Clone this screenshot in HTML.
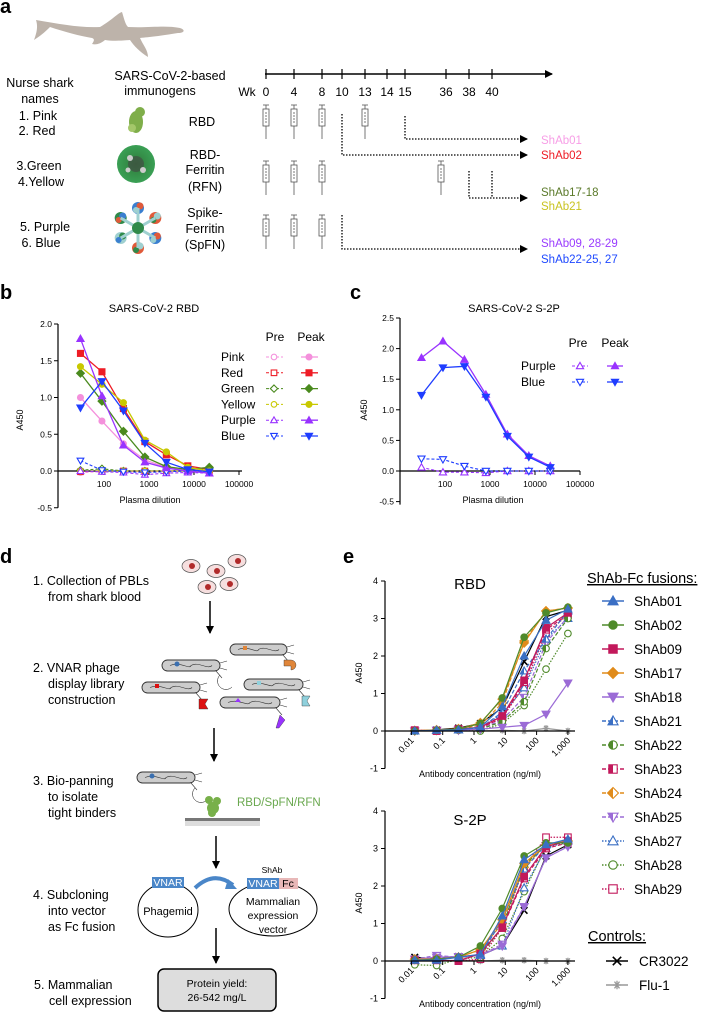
<!DOCTYPE html>
<html><head><meta charset="utf-8">
<style>
html,body{margin:0;padding:0;background:#fff;}
svg{display:block;font-family:"Liberation Sans",Arial,sans-serif;}
</style></head>
<body>
<svg id="fig" width="713" height="1012" viewBox="0 0 713 1012" xmlns="http://www.w3.org/2000/svg">
<defs>
  <marker id="arr" markerWidth="8" markerHeight="8" refX="7" refY="4" orient="auto" markerUnits="userSpaceOnUse"><path d="M0,0 L8,4 L0,8 Z" fill="#000"/></marker>
  <radialGradient id="rfnG" cx="50%" cy="50%" r="50%"><stop offset="0" stop-color="#2f7a3a"/><stop offset="1" stop-color="#3aa055"/></radialGradient>
</defs>

<!-- PANEL A -->
<g>
  <text x="0" y="13" font-size="20" font-weight="bold">a</text>
  <g fill="#bdb3aa">
    <path d="M36,20 C60,24 80,28 100,27 C112,20 118,13 122,12 C124,18 125,24 128,27 C150,28 165,25 180,28 C186,30 184,33 178,33 C160,36 150,37 140,38 C143,45 148,50 148,57 C140,52 134,46 130,40 C118,41 112,41 105,40 C100,44 96,45 92,44 C94,41 95,39 92,38 C80,36 65,32 50,27 C44,33 40,36 34,40 C37,32 38,26 36,20 Z"/>
  </g>
  <g font-size="12.5" text-anchor="middle">
    <text x="40" y="87">Nurse shark</text>
    <text x="40" y="103">names</text>
    <text x="38" y="120">1. Pink</text>
    <text x="37" y="135">2. Red</text>
    <text x="39" y="170">3.Green</text>
    <text x="41" y="186">4.Yellow</text>
    <text x="45" y="231">5. Purple</text>
    <text x="41" y="247">6. Blue</text>
  </g>
  <g font-size="12.5" text-anchor="middle">
    <text x="170" y="80">SARS-CoV-2-based</text>
    <text x="160" y="95">immunogens</text>
    <text x="202" y="126">RBD</text>
    <text x="205" y="159">RBD-</text>
    <text x="205" y="174">Ferritin</text>
    <text x="205" y="191">(RFN)</text>
    <text x="205" y="217">Spike-</text>
    <text x="205" y="233">Ferritin</text>
    <text x="205" y="249">(SpFN)</text>
  </g>
  <g fill="#7fae4a">
    <ellipse cx="136" cy="122" rx="7" ry="11"/><circle cx="140" cy="112" r="5"/><circle cx="132" cy="128" r="4" fill="#a4c76a"/>
  </g>
  <g>
    <circle cx="136" cy="164" r="19" fill="url(#rfnG)"/>
    <circle cx="136" cy="164" r="8" fill="#444" opacity="0.6"/>
    <circle cx="130" cy="158" r="3" fill="#ccc"/><circle cx="143" cy="170" r="3" fill="#ccc"/><circle cx="128" cy="170" r="2.5" fill="#ccc"/>
  </g>
  <g id="spfn"></g>
  <g id="timeline"></g>
</g>

<!-- PANEL B -->
<g id="panelB">
  <text x="0" y="299" font-size="20" font-weight="bold">b</text>
  <text x="154" y="312" font-size="11" text-anchor="middle">SARS-CoV-2 RBD</text>
  <text x="23" y="420" font-size="9" text-anchor="middle" transform="rotate(-90 23 420)">A450</text>
  <text x="150" y="503" font-size="9" text-anchor="middle">Plasma dilution</text>
</g>

<!-- PANEL C -->
<g id="panelC">
  <text x="350" y="299" font-size="20" font-weight="bold">c</text>
  <text x="514" y="312" font-size="11" text-anchor="middle">SARS-CoV-2 S-2P</text>
  <text x="367" y="410" font-size="9" text-anchor="middle" transform="rotate(-90 367 410)">A450</text>
  <text x="493" y="503" font-size="9" text-anchor="middle">Plasma dilution</text>
</g>

<!-- PANEL D -->
<g id="panelD">
  <text x="0" y="563" font-size="20" font-weight="bold">d</text>
  <g font-size="12.5">
    <text x="33" y="585">1. Collection of PBLs</text>
    <text x="48" y="601">from shark blood</text>
    <text x="33" y="672">2. VNAR phage</text>
    <text x="48" y="688">display library</text>
    <text x="48" y="704">construction</text>
    <text x="33" y="785">3. Bio-panning</text>
    <text x="48" y="801">to isolate</text>
    <text x="48" y="817">tight binders</text>
    <text x="33" y="899">4. Subcloning</text>
    <text x="48" y="915">into vector</text>
    <text x="48" y="931">as Fc fusion</text>
    <text x="34" y="989">5. Mammalian</text>
    <text x="49" y="1005">cell expression</text>
  </g>
  <g id="cells"></g>
  <g stroke="#000" stroke-width="1.5">
    <line x1="210" y1="601" x2="210" y2="633" marker-end="url(#arr)"/>
    <line x1="214" y1="728" x2="214" y2="761" marker-end="url(#arr)"/>
    <line x1="216" y1="836" x2="216" y2="868" marker-end="url(#arr)"/>
    <line x1="216" y1="928" x2="216" y2="963" marker-end="url(#arr)"/>
  </g>
  <g id="phages"></g>
  <g>
    <rect x="185" y="818" width="75" height="3" fill="#777"/>
    <rect x="185" y="821" width="75" height="5" fill="#ddd"/>
    <g fill="#78b04a"><circle cx="213" cy="808" r="6"/><circle cx="209" cy="800" r="4"/><circle cx="217" cy="801" r="4"/><circle cx="212" cy="813" r="4"/></g>
    <text x="237" y="806" font-size="11.5" fill="#6aa84f">RBD/SpFN/RFN</text>
  </g>
  <g>
    <ellipse cx="168" cy="910" rx="30" ry="27" fill="none" stroke="#000" stroke-width="1"/>
    <rect x="152" y="877" width="32" height="11" fill="#4a86c8"/>
    <text x="168" y="886" font-size="10.5" fill="#fff" text-anchor="middle">VNAR</text>
    <text x="168" y="915" font-size="11" text-anchor="middle">Phagemid</text>
    <path d="M195,888 Q214,870 233,885" fill="none" stroke="#4a86c8" stroke-width="4"/>
    <path d="M228,879 L237,889 L225,889 Z" fill="#4a86c8"/>
    <ellipse cx="273" cy="909" rx="44" ry="27" fill="none" stroke="#000" stroke-width="1"/>
    <text x="272" y="873" font-size="8.5" text-anchor="middle">ShAb</text>
    <rect x="247" y="878" width="32" height="11" fill="#4a86c8"/>
    <rect x="279" y="878" width="19" height="11" fill="#e8b8b8"/>
    <text x="263" y="887" font-size="10.5" fill="#fff" text-anchor="middle">VNAR</text>
    <text x="288" y="887" font-size="10.5" text-anchor="middle">Fc</text>
    <text x="273" y="905" font-size="10.5" text-anchor="middle">Mammalian</text>
    <text x="273" y="919" font-size="10.5" text-anchor="middle">expression</text>
    <text x="273" y="933" font-size="10.5" text-anchor="middle">vector</text>
  </g>
  <g>
    <rect x="158" y="969" width="118" height="42" rx="6" fill="#ddd" stroke="#000" stroke-width="1.5"/>
    <text x="217" y="987" font-size="10.5" text-anchor="middle">Protein yield:</text>
    <text x="217" y="1001" font-size="10.5" text-anchor="middle">26-542 mg/L</text>
  </g>
</g>

<!-- PANEL E -->
<g id="panelE">
  <text x="343" y="563" font-size="20" font-weight="bold">e</text>
  <text x="470" y="589" font-size="15" text-anchor="middle">RBD</text>
  <text x="470" y="825" font-size="15" text-anchor="middle">S-2P</text>
  <text x="362" y="673" font-size="9" text-anchor="middle" transform="rotate(-90 362 673)">A450</text>
  <text x="362" y="903" font-size="9" text-anchor="middle" transform="rotate(-90 362 903)">A450</text>
  <text x="480" y="777" font-size="9" text-anchor="middle">Antibody concentration (ng/ml)</text>
  <text x="480" y="1007" font-size="9" text-anchor="middle">Antibody concentration (ng/ml)</text>
  <text x="587" y="583" font-size="14.5" text-decoration="underline">ShAb-Fc fusions:</text>
  <text x="588" y="941" font-size="14.5" text-decoration="underline">Controls:</text>
</g>
</svg>

<script>
// ---------- DATA: panel b ----------
const bDilutions = [30, 90, 270, 810, 2430, 7290, 21870];
const bNames = ["Pink","Red","Green","Yellow","Purple","Blue"];
const bPeakPink   = [1.0, 0.68, 0.37, 0.15, 0.05, 0.02, 0.0];
const bPeakRed    = [1.6, 1.35, 0.85, 0.40, 0.22, 0.07, 0.02];
const bPeakGreen  = [1.33, 0.95, 0.54, 0.19, 0.06, 0.02, 0.05];
const bPeakYellow = [1.42, 1.18, 0.93, 0.42, 0.26, 0.05, 0.0];
const bPeakPurple = [1.8, 1.02, 0.35, 0.12, 0.04, 0.0, -0.03];
const bPeakBlue   = [0.86, 1.22, 0.82, 0.38, 0.12, 0.02, -0.01];
const bPrePink   = [-0.02, -0.01, -0.01, -0.01, -0.01, 0.0, 0.0];
const bPreRed    = [-0.01, 0.0, 0.0, 0.0, 0.0, 0.0, 0.0];
const bPreGreen  = [0.01, 0.03, 0.0, 0.0, 0.0, 0.0, 0.03];
const bPreYellow = [0.0, 0.0, 0.0, 0.0, 0.0, 0.0, 0.0];
const bPrePurple = [0.0, -0.01, -0.02, -0.05, -0.03, -0.02, -0.03];
const bPreBlue   = [0.14, 0.01, -0.01, -0.02, -0.01, 0.0, -0.01];
const bYTicks = [2.0, 1.5, 1.0, 0.5, 0.0, -0.5];
const bYTickLabels = ["2.0","1.5","1.0","0.5","0.0","-0.5"];
const bXTicks = [100, 1000, 10000, 100000];
const bXTickLabels = ["100","1000","10000","100000"];

// ---------- DATA: panel c ----------
const cDilutions = [30, 90, 270, 810, 2430, 7290, 21870];
const cNames = ["Purple","Blue"];
const cPeakPurple = [1.85, 2.12, 1.82, 1.25, 0.60, 0.25, 0.08];
const cPeakBlue   = [1.24, 1.69, 1.71, 1.21, 0.57, 0.23, 0.06];
const cPrePurple  = [0.06, -0.02, -0.02, -0.03, 0.0, 0.0, 0.0];
const cPreBlue    = [0.20, 0.19, 0.08, 0.0, 0.0, 0.0, 0.0];
const cYTicks = [2.5, 2.0, 1.5, 1.0, 0.5, 0.0, -0.5];
const cYTickLabels = ["2.5","2.0","1.5","1.0","0.5","0.0","-0.5"];
const cXTicks = [100, 1000, 10000, 100000];
const cXTickLabels = ["100","1000","10000","100000"];

// ---------- DATA: panel e ----------
const eConc = [0.0128, 0.064, 0.32, 1.6, 8, 40, 200, 1000];
const eSeriesNames = ["ShAb01","ShAb02","ShAb09","ShAb17","ShAb18","ShAb21","ShAb22","ShAb23","ShAb24","ShAb25","ShAb27","ShAb28","ShAb29","CR3022","Flu-1"];
const eRbdShAb01 = [0, 0.02, 0.03, 0.10, 0.65, 2.0, 2.95, 3.25];
const eRbdShAb02 = [0, 0.02, 0.05, 0.20, 0.88, 2.5, 3.15, 3.30];
const eRbdShAb09 = [0.02, 0.0, 0.05, 0.10, 0.40, 1.35, 2.75, 3.15];
const eRbdShAb17 = [0.01, 0.03, 0.05, 0.22, 0.85, 2.35, 3.2, 3.28];
const eRbdShAb18 = [0, 0.02, 0.02, 0.05, 0.10, 0.15, 0.45, 1.28];
const eRbdShAb21 = [0, 0.02, 0.03, 0.08, 0.50, 1.6, 2.45, 3.2];
const eRbdShAb22 = [0, 0.02, 0.03, 0.05, 0.25, 0.78, 2.2, 3.0];
const eRbdShAb23 = [0.02, 0.0, 0.05, 0.08, 0.35, 1.3, 2.7, 3.1];
const eRbdShAb24 = [0.01, 0.02, 0.06, 0.15, 0.75, 2.4, 3.2, 3.28];
const eRbdShAb25 = [0, 0.02, 0.03, 0.05, 0.30, 0.9, 2.35, 3.05];
const eRbdShAb27 = [0, 0.02, 0.03, 0.10, 0.45, 1.15, 2.45, 3.0];
const eRbdShAb28 = [0, 0.01, 0.02, 0.0, 0.20, 0.68, 1.65, 2.6];
const eRbdShAb29 = [0.02, 0.01, 0.05, 0.08, 0.35, 1.2, 2.6, 3.1];
const eRbdCR3022 = [0.0, 0.03, 0.08, 0.20, 0.62, 1.85, 3.05, 3.22];
const eRbdFlu1   = [0, 0, 0, 0, 0.02, 0, 0.07, 0];
const eS2pShAb01 = [0.02, 0.02, 0.10, 0.18, 1.2, 2.7, 3.1, 3.25];
const eS2pShAb02 = [0.02, 0.05, 0.10, 0.40, 1.4, 2.8, 3.15, 3.15];
const eS2pShAb09 = [0.02, 0.02, 0.0, 0.20, 0.9, 2.25, 3.05, 3.2];
const eS2pShAb17 = [0.05, 0.05, 0.10, 0.30, 1.1, 2.6, 3.1, 3.2];
const eS2pShAb18 = [0.05, 0.10, 0.12, 0.15, 0.4, 1.45, 2.75, 3.05];
const eS2pShAb21 = [0.02, 0.05, 0.10, 0.15, 1.1, 2.45, 3.1, 3.2];
const eS2pShAb22 = [0.02, 0.05, 0.10, 0.15, 0.9, 2.55, 3.1, 3.2];
const eS2pShAb23 = [0.02, 0.02, 0.0, 0.20, 0.88, 2.2, 3.0, 3.15];
const eS2pShAb24 = [0.05, 0.05, 0.10, 0.30, 1.0, 2.5, 3.1, 3.2];
const eS2pShAb25 = [0.05, 0.15, 0.10, 0.15, 0.45, 1.45, 2.75, 3.05];
const eS2pShAb27 = [0.02, 0.05, 0.10, 0.15, 0.4, 1.95, 3.0, 3.2];
const eS2pShAb28 = [-0.1, -0.12, 0.05, 0.10, 0.6, 1.85, 3.05, 3.15];
const eS2pShAb29 = [0.02, 0.02, 0.0, 0.05, 0.88, 2.5, 3.3, 3.3];
const eS2pCR3022 = [0.1, 0.05, 0.12, 0.15, 0.4, 1.35, 2.8, 3.1];
const eS2pFlu1   = [0, 0, 0.02, 0.0, 0.02, 0.02, 0.0, 0.0];
const eYTicks = [4, 3, 2, 1, 0, -1];
const eYTickLabels = ["4","3","2","1","0","-1"];
const eXTicks = [0.01, 0.1, 1, 10, 100, 1000];
const eXTickLabels = ["0.01","0.1","1","10","100","1,000"];

// ---------- helpers ----------
const NS = "http://www.w3.org/2000/svg";
function mk(parent, tag, attrs, text) {
  const el = document.createElementNS(NS, tag);
  for (const k in attrs) el.setAttribute(k, attrs[k]);
  if (text !== undefined) el.textContent = text;
  parent.appendChild(el);
  return el;
}
const defs = document.querySelector("defs");
const gradDone = {};
function halfFill(color) {
  const id = "half" + color.replace("#", "");
  if (!gradDone[id]) {
    const g = mk(defs, "linearGradient", {id: id, x1: "0", x2: "1", y1: "0", y2: "0"});
    mk(g, "stop", {offset: "0.5", "stop-color": color});
    mk(g, "stop", {offset: "0.5", "stop-color": "#fff"});
    gradDone[id] = 1;
  }
  return "url(#" + id + ")";
}
function marker(parent, shape, x, y, s, color, fillType) {
  let fill = fillType === "filled" ? color : (fillType === "half" ? halfFill(color) : "#fff");
  const a = {fill: fill, stroke: color, "stroke-width": 1.1};
  let el;
  if (shape === "circle") el = mk(parent, "circle", Object.assign({cx: x, cy: y, r: s}, a));
  else if (shape === "square") el = mk(parent, "rect", Object.assign({x: x - s, y: y - s, width: 2 * s, height: 2 * s}, a));
  else if (shape === "diamond") el = mk(parent, "path", Object.assign({d: `M${x},${y - s * 1.3}L${x + s * 1.3},${y}L${x},${y + s * 1.3}L${x - s * 1.3},${y}Z`}, a));
  else if (shape === "tri") el = mk(parent, "path", Object.assign({d: `M${x},${y - s * 1.2}L${x + s * 1.2},${y + s * 0.9}L${x - s * 1.2},${y + s * 0.9}Z`}, a));
  else if (shape === "dtri") el = mk(parent, "path", Object.assign({d: `M${x},${y + s * 1.2}L${x + s * 1.2},${y - s * 0.9}L${x - s * 1.2},${y - s * 0.9}Z`}, a));
  else if (shape === "x") el = mk(parent, "path", {d: `M${x - s},${y - s}L${x + s},${y + s}M${x - s},${y + s}L${x + s},${y - s}`, stroke: color, "stroke-width": 1.6, fill: "none"});
  else if (shape === "star") el = mk(parent, "path", {d: `M${x - s},${y}L${x + s},${y}M${x - s * .6},${y - s * .8}L${x + s * .6},${y + s * .8}M${x - s * .6},${y + s * .8}L${x + s * .6},${y - s * .8}M${x},${y - s}L${x},${y + s}`, stroke: color, "stroke-width": 1.3, fill: "none"});
  return el;
}

// ---------- Panel A extras ----------
(function () {
  const sp = document.getElementById("spfn");
  const cols = ["#3a7fd0", "#e05a3a", "#9fd0d0", "#2f8a4a"];
  for (let k = 0; k < 6; k++) {
    const ang = k * Math.PI / 3 + Math.PI / 6;
    const cx = 138 + Math.cos(ang) * 20, cy = 228 + Math.sin(ang) * 20;
    mk(sp, "circle", {cx: cx, cy: cy, r: 6, fill: cols[k % 4]});
    mk(sp, "circle", {cx: cx + 2, cy: cy - 2, r: 3.5, fill: cols[(k + 1) % 4]});
    mk(sp, "circle", {cx: cx - 2, cy: cy + 2, r: 3, fill: cols[(k + 2) % 4]});
    mk(sp, "line", {x1: 138, y1: 228, x2: cx, y2: cy, stroke: "#9fd0d0", "stroke-width": 3});
  }
  mk(sp, "circle", {cx: 138, cy: 228, r: 6, fill: "#2f8a4a"});

  const tl = document.getElementById("timeline");
  mk(tl, "line", {x1: 265, y1: 74, x2: 552, y2: 74, stroke: "#000", "stroke-width": 1.5, "marker-end": "url(#arr)"});
  const wk = ["0","4","8","10","13","14","15","36","38","40"];
  const wx = [266, 294, 322, 342, 365, 387, 405, 446, 469, 492];
  for (let i = 0; i < wk.length; i++) {
    mk(tl, "line", {x1: wx[i], y1: 69, x2: wx[i], y2: 79, stroke: "#000", "stroke-width": 1.2});
    const t = mk(tl, "text", {x: wx[i], y: 96, "font-size": 12, "text-anchor": "middle"}, wk[i]);
    
    
  }
  mk(tl, "text", {x: 247, y: 96, "font-size": 12, "text-anchor": "middle"}, "Wk");
  function syringe(x, y) {
    const g = mk(tl, "g", {stroke: "#555", "stroke-width": 0.8, fill: "#fff"});
    
    
    mk(g, "line", {x1: x - 3, y1: y, x2: x + 3, y2: y});
    mk(g, "line", {x1: x, y1: y, x2: x, y2: y + 4});
    mk(g, "rect", {x: x - 3, y: y + 4, width: 6, height: 17});
    mk(g, "line", {x1: x, y1: y + 21, x2: x, y2: y + 34});
    for (let k = 0; k < 4; k++) mk(g, "line", {x1: x - 1, y1: y + 8 + k * 3, x2: x + 1, y2: y + 8 + k * 3});
  }
  [266, 294, 322, 365].forEach(x => syringe(x, 105));
  [266, 294, 322, 441].forEach(x => syringe(x, 161));
  [266, 294, 322].forEach(x => syringe(x, 215));
  const dot = {stroke: "#000", "stroke-width": 1.3, "stroke-dasharray": "1.5,1.5", fill: "none"};
  mk(tl, "path", Object.assign({d: "M405,116 L405,139 L527,139", "marker-end": "url(#arr)"}, dot));
  mk(tl, "path", Object.assign({d: "M342,114 L342,155 L527,155", "marker-end": "url(#arr)"}, dot));
  mk(tl, "path", Object.assign({d: "M469,171 L469,198 L527,198", "marker-end": "url(#arr)"}, dot));
  mk(tl, "path", Object.assign({d: "M492,171 L492,198"}, dot));
  mk(tl, "path", Object.assign({d: "M342,215 L342,249 L527,249", "marker-end": "url(#arr)"}, dot));
  const labs = [["ShAb01", "#f79ee6", 144], ["ShAb02", "#ee1c25", 159], ["ShAb17-18", "#5b7a2a", 196], ["ShAb21", "#c9c320", 210], ["ShAb09, 28-29", "#9a3cff", 247], ["ShAb22-25, 27", "#1f49ff", 263]];
  labs.forEach(l => {
    const t = mk(tl, "text", {x: 541, y: l[2], "font-size": 11.5, fill: l[1]}, l[0]);
    
    
  });
})();

// ---------- Panel B ----------
(function () {
  const g = document.getElementById("panelB");
  const xb = d => 104 + 45 * Math.log10(d / 100);
  const yb = v => 471 - v * 73.5;
  mk(g, "line", {x1: 58, y1: yb(2.0), x2: 58, y2: yb(-0.5), stroke: "#000", "stroke-width": 1.2});
  mk(g, "line", {x1: 58, y1: yb(0), x2: xb(100000) + 3, y2: yb(0), stroke: "#000", "stroke-width": 1.2});
  bYTicks.forEach((v, i) => {
    mk(g, "line", {x1: 54, y1: yb(v), x2: 58, y2: yb(v), stroke: "#000"});
    const t = mk(g, "text", {x: 52, y: yb(v) + 3, "font-size": 8.5, "text-anchor": "end"}, bYTickLabels[i]);
    
    
  });
  bXTicks.forEach((v, i) => {
    mk(g, "line", {x1: xb(v), y1: yb(0), x2: xb(v), y2: yb(0) + 4, stroke: "#000"});
    const t = mk(g, "text", {x: xb(v), y: 487, "font-size": 8.5, "text-anchor": "middle"}, bXTickLabels[i]);
    
    
  });
  const colors = ["#f490dc", "#ee1c25", "#4a8a1e", "#c8c800", "#9933ff", "#1f3dff"];
  const shapes = ["circle", "square", "diamond", "circle", "tri", "dtri"];
  const peaks = [bPeakPink, bPeakRed, bPeakGreen, bPeakYellow, bPeakPurple, bPeakBlue];
  const pres = [bPrePink, bPreRed, bPreGreen, bPreYellow, bPrePurple, bPreBlue];
  for (let s = 0; s < 6; s++) {
    const pre = pres[s];
    const pp = mk(g, "polyline", {points: bDilutions.map((d, i) => xb(d) + "," + yb(pre[i])).join(" "), fill: "none", stroke: colors[s], "stroke-width": 1.1, "stroke-dasharray": "3,2"});
    
    
    bDilutions.forEach((d, i) => {
      const m = marker(g, shapes[s], xb(d), yb(pre[i]), 2.8, colors[s], "open");
      
      
    });
  }
  for (let s = 0; s < 6; s++) {
    const pk = peaks[s];
    const pl = mk(g, "polyline", {points: bDilutions.map((d, i) => xb(d) + "," + yb(pk[i])).join(" "), fill: "none", stroke: colors[s], "stroke-width": 1.3});
    
    
    bDilutions.forEach((d, i) => {
      const m = marker(g, shapes[s], xb(d), yb(pk[i]), 3, colors[s], "filled");
      
      
    });
  }
  mk(g, "text", {x: 275, y: 341, "font-size": 12, "text-anchor": "middle"}, "Pre");
  mk(g, "text", {x: 311, y: 341, "font-size": 12, "text-anchor": "middle"}, "Peak");
  for (let s = 0; s < 6; s++) {
    const y = 357 + s * 15.8;
    const lg = mk(g, "g", {});
    
    
    mk(lg, "text", {x: 221, y: y + 4, "font-size": 12}, bNames[s]);
    mk(lg, "line", {x1: 266, y1: y, x2: 283, y2: y, stroke: colors[s], "stroke-dasharray": "3,2"});
    marker(lg, shapes[s], 274, y, 2.8, colors[s], "open");
    mk(lg, "line", {x1: 301, y1: y, x2: 318, y2: y, stroke: colors[s], "stroke-width": 1.3});
    marker(lg, shapes[s], 309, y, 3, colors[s], "filled");
  }
})();

// ---------- Panel C ----------
(function () {
  const g = document.getElementById("panelC");
  const xc = d => 445 + 45 * Math.log10(d / 100);
  const yc = v => 471 - v * 61.2;
  mk(g, "line", {x1: 400, y1: yc(2.5), x2: 400, y2: yc(-0.55), stroke: "#000", "stroke-width": 1.2});
  mk(g, "line", {x1: 400, y1: yc(0), x2: xc(100000), y2: yc(0), stroke: "#000", "stroke-width": 1.2});
  cYTicks.forEach((v, i) => {
    mk(g, "line", {x1: 396, y1: yc(v), x2: 400, y2: yc(v), stroke: "#000"});
    const t = mk(g, "text", {x: 394, y: yc(v) + 3, "font-size": 8.5, "text-anchor": "end"}, cYTickLabels[i]);
    
    
  });
  cXTicks.forEach((v, i) => {
    mk(g, "line", {x1: xc(v), y1: yc(0), x2: xc(v), y2: yc(0) + 4, stroke: "#000"});
    const t = mk(g, "text", {x: xc(v), y: 487, "font-size": 8.5, "text-anchor": "middle"}, cXTickLabels[i]);
    
    
  });
  const colors = ["#9933ff", "#1f3dff"];
  const shapes = ["tri", "dtri"];
  const pres = [cPrePurple, cPreBlue], peaks = [cPeakPurple, cPeakBlue];
  for (let s = 0; s < 2; s++) {
    const pl = mk(g, "polyline", {points: cDilutions.map((d, i) => xc(d) + "," + yc(pres[s][i])).join(" "), fill: "none", stroke: colors[s], "stroke-width": 1.1, "stroke-dasharray": "3,2"});
    
    
    cDilutions.forEach((d, i) => {
      const m = marker(g, shapes[s], xc(d), yc(pres[s][i]), 3, colors[s], "open");
      
      
    });
    const pk = mk(g, "polyline", {points: cDilutions.map((d, i) => xc(d) + "," + yc(peaks[s][i])).join(" "), fill: "none", stroke: colors[s], "stroke-width": 1.3});
    
    
    cDilutions.forEach((d, i) => {
      const m = marker(g, shapes[s], xc(d), yc(peaks[s][i]), 3, colors[s], "filled");
      
      
    });
  }
  mk(g, "text", {x: 578, y: 347, "font-size": 12, "text-anchor": "middle"}, "Pre");
  mk(g, "text", {x: 615, y: 347, "font-size": 12, "text-anchor": "middle"}, "Peak");
  for (let s = 0; s < 2; s++) {
    const y = 366 + s * 16;
    const lg = mk(g, "g", {});
    
    
    mk(lg, "text", {x: 521, y: y + 4, "font-size": 12}, cNames[s]);
    mk(lg, "line", {x1: 572, y1: y, x2: 588, y2: y, stroke: colors[s], "stroke-dasharray": "3,2"});
    marker(lg, shapes[s], 580, y, 3, colors[s], "open");
    mk(lg, "line", {x1: 607, y1: y, x2: 623, y2: y, stroke: colors[s], "stroke-width": 1.3});
    marker(lg, shapes[s], 615, y, 3, colors[s], "filled");
  }
})();

// ---------- Panel D extras ----------
(function () {
  const c = document.getElementById("cells");
  [[191, 566], [216, 571], [237, 561], [207, 587], [229, 584]].forEach(p => {
    const e = mk(c, "ellipse", {cx: p[0], cy: p[1], rx: 9, ry: 6.5, fill: "#f6dede", stroke: "#555", "stroke-width": 0.7});
    
    
    mk(c, "circle", {cx: p[0] + 1, cy: p[1], r: 3, fill: "#b02a2a"});
  });
  const ph = document.getElementById("phages");
  function phage(x, y, w, tagColor, tagShape, binder) {
    const g = mk(ph, "g", {});
    
    
    mk(g, "rect", {x: x, y: y, width: w, height: 11, rx: 5.5, fill: "#ccc", stroke: "#333", "stroke-width": 0.9});
    mk(g, "path", {d: `M${x + 8},${y + 5.5} C${x + 18},${y + 1} ${x + 28},${y + 10} ${x + w / 2},${y + 5.5} C${x + w - 22},${y + 1} ${x + w - 12},${y + 10} ${x + w - 8},${y + 5.5}`, fill: "none", stroke: "#333", "stroke-width": 0.6});
    mk(g, "line", {x1: x + w, y1: y + 3, x2: x + w + 7, y2: y + 1, stroke: "#333", "stroke-width": 0.6});
    mk(g, "line", {x1: x + w, y1: y + 8, x2: x + w + 7, y2: y + 10, stroke: "#333", "stroke-width": 0.6});
    mk(g, "line", {x1: x + w - 4, y1: y + 11, x2: x + w + 2, y2: y + 18, stroke: "#333", "stroke-width": 0.6});
    if (tagShape === "c") mk(g, "circle", {cx: x + 15, cy: y + 4, r: 2.5, fill: tagColor});
    else if (tagShape === "t") mk(g, "path", {d: `M${x + 18},${y + 1} L${x + 21},${y + 5} L${x + 15},${y + 5}Z`, fill: tagColor});
    else mk(g, "rect", {x: x + 13, y: y + 2, width: 4, height: 4, fill: tagColor});
    mk(g, "path", {d: binder, fill: tagColor, stroke: "#333", "stroke-width": 0.4});
  }
  phage(162, 660, 58, "#3a6fb0", "c", "M220,675 a8,8 0 1,0 12,12 a6,6 0 1,1 -12,-12Z");
  phage(230, 644, 57, "#e0863a", "s", "M284,660 l7,0 a5,5 0 0,1 0,10 l0,-4 l-7,0Z");
  phage(142, 682, 58, "#dd1111", "s", "M199,699 l9,0 l-3,5 l3,5 l-9,0Z");
  phage(244, 679, 59, "#8fd0dc", "s", "M302,696 l8,0 l-3,5 l3,5 l-8,0Z");
  phage(220, 697, 60, "#9933ff", "t", "M280,715 l5,5 l-6,8 l-3,0Z");
  phage(137, 772, 58, "#3a6fb0", "c", "M195,788 a8,8 0 1,0 12,12 a6,6 0 1,1 -12,-12Z");
})();

// ---------- Panel E ----------
(function () {
  const g = document.getElementById("panelE");
  const xe = c => 474 + 31.3 * Math.log10(c);
  const colors = ["#3a6fc4", "#4f8a2a", "#c2185b", "#e08b1a", "#9b6bd6", "#3a6fc4", "#4f8a2a", "#c2185b", "#e08b1a", "#9b6bd6", "#3a6fc4", "#4f8a2a", "#c2185b", "#000000", "#999999"];
  const shapes = ["tri", "circle", "square", "diamond", "dtri", "tri", "circle", "square", "diamond", "dtri", "tri", "circle", "square", "x", "star"];
  const fills = ["filled", "filled", "filled", "filled", "filled", "half", "half", "half", "half", "half", "open", "open", "open", "filled", "filled"];
  const dashes = ["", "", "", "", "", "4,2", "4,2", "4,2", "4,2", "4,2", "1.5,1.5", "1.5,1.5", "1.5,1.5", "", ""];
  const rbd = [eRbdShAb01, eRbdShAb02, eRbdShAb09, eRbdShAb17, eRbdShAb18, eRbdShAb21, eRbdShAb22, eRbdShAb23, eRbdShAb24, eRbdShAb25, eRbdShAb27, eRbdShAb28, eRbdShAb29, eRbdCR3022, eRbdFlu1];
  const s2p = [eS2pShAb01, eS2pShAb02, eS2pShAb09, eS2pShAb17, eS2pShAb18, eS2pShAb21, eS2pShAb22, eS2pShAb23, eS2pShAb24, eS2pShAb25, eS2pShAb27, eS2pShAb28, eS2pShAb29, eS2pCR3022, eS2pFlu1];
  function chart(y0, data, tag) {
    const ye = v => y0 - 37.5 * v;
    mk(g, "line", {x1: 385, y1: ye(4), x2: 385, y2: ye(-1), stroke: "#000", "stroke-width": 1.2});
    eYTicks.forEach((v, i) => {
      mk(g, "line", {x1: 381, y1: ye(v), x2: 385, y2: ye(v), stroke: "#000"});
      const t = mk(g, "text", {x: 378, y: ye(v) + 3, "font-size": 9, "text-anchor": "end"}, eYTickLabels[i]);
      
      
    });
    const order = [14, 13, 12, 11, 10, 9, 8, 7, 6, 5, 4, 3, 2, 1, 0];
    order.forEach(s => {
      const pl = mk(g, "polyline", {points: eConc.map((c, i) => xe(c) + "," + ye(data[s][i])).join(" "), fill: "none", stroke: colors[s], "stroke-width": 1.2, "stroke-dasharray": dashes[s] || "none"});
      
      
      eConc.forEach((c, i) => {
        const m = marker(g, shapes[s], xe(c), ye(data[s][i]), 3.3, colors[s], fills[s]);
        
        
      });
    });
    mk(g, "line", {x1: 385, y1: ye(0), x2: 575, y2: ye(0), stroke: "#000", "stroke-width": 1.2});
    eXTicks.forEach((v, i) => {
      mk(g, "line", {x1: xe(v), y1: ye(0), x2: xe(v), y2: ye(0) + 4, stroke: "#000"});
      const tx = xe(v) + 3, ty = ye(0) + 10;
      const t = mk(g, "text", {x: tx, y: ty, "font-size": 9, "text-anchor": "end", transform: `rotate(-45 ${tx} ${ty})`}, eXTickLabels[i]);
      
      
    });
  }
  chart(731, rbd, "rbd");
  chart(961, s2p, "s2p");
  for (let s = 0; s < 15; s++) {
    const y = s < 13 ? 601 + s * 24 : 961 + (s - 13) * 24;
    const mx = s < 13 ? 613 : 617;
    const tx = s < 13 ? 634 : 639;
    const lg = mk(g, "g", {});
    
    
    mk(lg, "line", {x1: mx - 11, y1: y, x2: mx + 11, y2: y, stroke: colors[s], "stroke-width": 1.4, "stroke-dasharray": dashes[s] || "none"});
    marker(lg, shapes[s], mx, y, 4.2, colors[s], fills[s]);
    mk(lg, "text", {x: tx, y: y + 5, "font-size": 13.5}, eSeriesNames[s]);
  }
})();
</script>
</body></html>
